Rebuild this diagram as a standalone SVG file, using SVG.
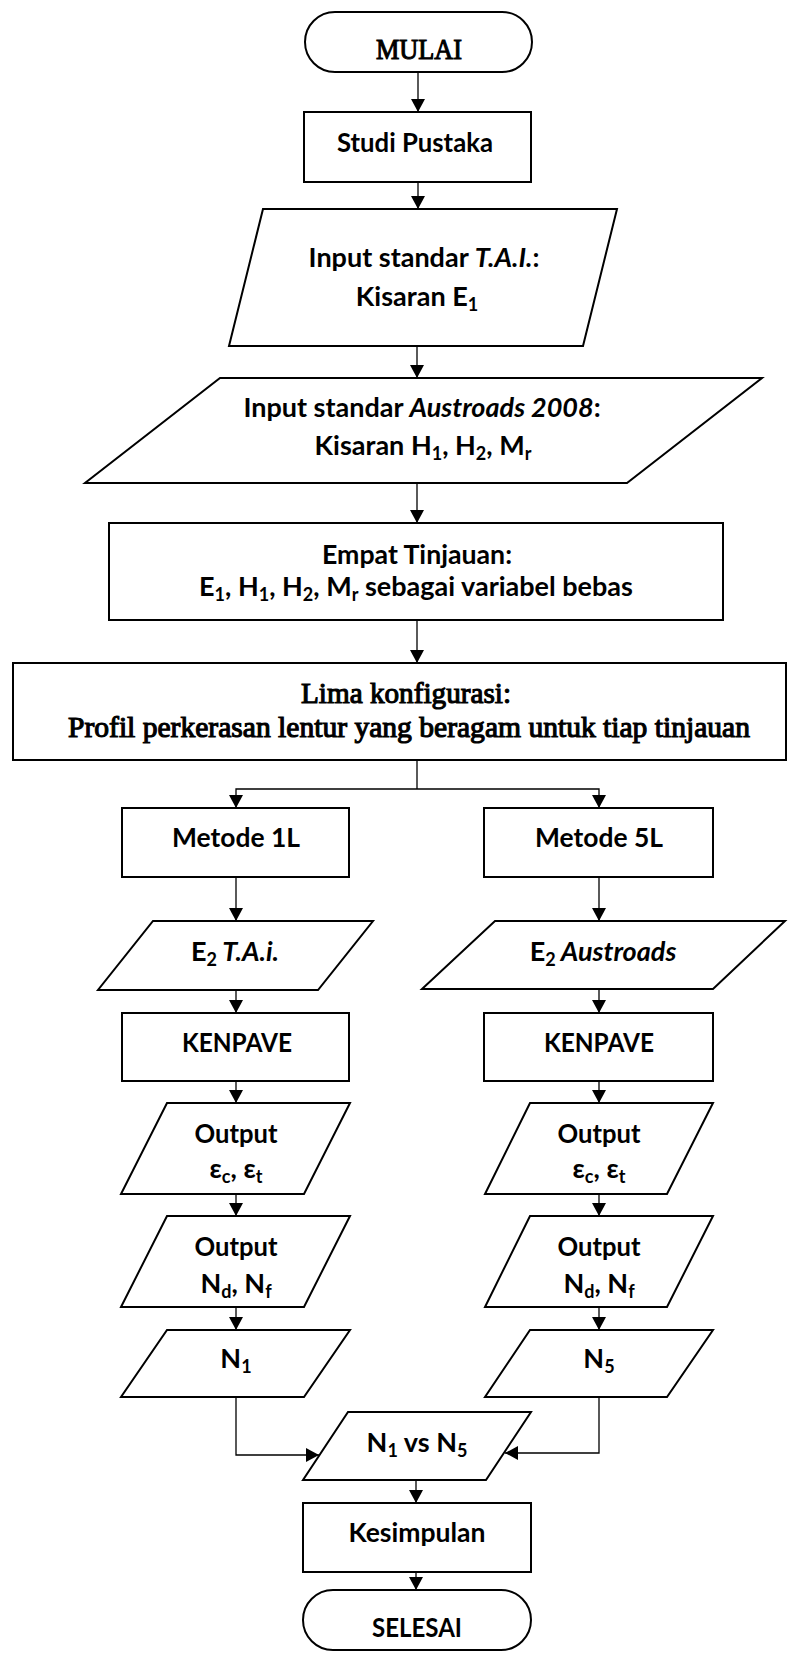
<svg xmlns="http://www.w3.org/2000/svg" width="797" height="1653" viewBox="0 0 797 1653">
<style>
.box{fill:#fff;stroke:#000;stroke-width:2}
.conn{fill:none;stroke:#000;stroke-width:1.3}
.t{font-family:Lato,"Liberation Sans",sans-serif;font-size:27px;font-weight:700;text-anchor:middle;fill:#000}
.s{font-family:"Liberation Serif",serif;font-size:29px;font-weight:400;text-anchor:middle;fill:#000;stroke:#000;stroke-width:1.1}
.sub{font-size:18px}
.i{font-style:italic}
</style>
<defs>
<marker id="ah" markerUnits="userSpaceOnUse" markerWidth="14" markerHeight="14" refX="13" refY="7" orient="auto">
<path d="M0,0 L13,7 L0,14 Z" fill="#000"/>
</marker>
</defs>
<g id="connectors">
<line class="conn" x1="418" y1="72" x2="418" y2="112" marker-end="url(#ah)"/>
<line class="conn" x1="418" y1="182" x2="418" y2="209" marker-end="url(#ah)"/>
<line class="conn" x1="417" y1="346" x2="417" y2="378" marker-end="url(#ah)"/>
<line class="conn" x1="417" y1="483" x2="417" y2="523" marker-end="url(#ah)"/>
<line class="conn" x1="417" y1="620" x2="417" y2="663" marker-end="url(#ah)"/>
<polyline class="conn" points="417,760 417,789"/>
<polyline class="conn" points="417,789 236,789 236,808" marker-end="url(#ah)"/>
<polyline class="conn" points="417,789 599,789 599,808" marker-end="url(#ah)"/>
<line class="conn" x1="236" y1="877" x2="236" y2="921" marker-end="url(#ah)"/>
<line class="conn" x1="599" y1="877" x2="599" y2="921" marker-end="url(#ah)"/>
<line class="conn" x1="236" y1="990" x2="236" y2="1013" marker-end="url(#ah)"/>
<line class="conn" x1="599" y1="989" x2="599" y2="1013" marker-end="url(#ah)"/>
<line class="conn" x1="236" y1="1081" x2="236" y2="1103" marker-end="url(#ah)"/>
<line class="conn" x1="599" y1="1081" x2="599" y2="1103" marker-end="url(#ah)"/>
<line class="conn" x1="236" y1="1194" x2="236" y2="1216" marker-end="url(#ah)"/>
<line class="conn" x1="599" y1="1194" x2="599" y2="1216" marker-end="url(#ah)"/>
<line class="conn" x1="236" y1="1307" x2="236" y2="1330" marker-end="url(#ah)"/>
<line class="conn" x1="599" y1="1307" x2="599" y2="1330" marker-end="url(#ah)"/>
<polyline class="conn" points="236,1397 236,1455 319,1455" marker-end="url(#ah)"/>
<polyline class="conn" points="599,1397 599,1453 505,1453" marker-end="url(#ah)"/>
<line class="conn" x1="416" y1="1480" x2="416" y2="1503" marker-end="url(#ah)"/>
<line class="conn" x1="416" y1="1572" x2="416" y2="1590" marker-end="url(#ah)"/>
</g>
<g id="mulai">
<rect class="box" x="305" y="12" width="227" height="60" rx="30"/>
<text class="s" x="419" y="59" textLength="86" lengthAdjust="spacingAndGlyphs" font-size="26">MULAI</text>
</g>
<g id="studi">
<rect class="box" x="304" y="112" width="227" height="70"/>
<text class="t" x="415" y="152" textLength="156" lengthAdjust="spacingAndGlyphs">Studi Pustaka</text>
</g>
<g id="input-tai">
<polygon class="box" points="263,209 617,209 583,346 229,346"/>
<text class="t" x="424" y="267">Input standar <tspan class="i">T.A.I.</tspan>:</text>
<text class="t" x="417" y="306">Kisaran E<tspan class="sub" dy="5">1</tspan></text>
</g>
<g id="input-austroads">
<polygon class="box" points="220,378 762,378 627,483 85,483"/>
<text class="t" x="422" y="417">Input standar <tspan class="i">Austroads 2008</tspan>:</text>
<text class="t" x="423" y="455">Kisaran H<tspan class="sub" dy="5">1</tspan><tspan dy="-5">, H</tspan><tspan class="sub" dy="5">2</tspan><tspan dy="-5">, M</tspan><tspan class="sub" dy="5">r</tspan></text>
</g>
<g id="empat">
<rect class="box" x="109" y="523" width="614" height="97"/>
<text class="t" x="417" y="564" textLength="190" lengthAdjust="spacingAndGlyphs">Empat Tinjauan:</text>
<text class="t" x="416" y="596">E<tspan class="sub" dy="5">1</tspan><tspan dy="-5">, H</tspan><tspan class="sub" dy="5">1</tspan><tspan dy="-5">, H</tspan><tspan class="sub" dy="5">2</tspan><tspan dy="-5">, M</tspan><tspan class="sub" dy="5">r</tspan><tspan dy="-5"> sebagai variabel bebas</tspan></text>
</g>
<g id="lima">
<rect class="box" x="13" y="663" width="773" height="97"/>
<text class="s" x="406" y="703" textLength="210" lengthAdjust="spacingAndGlyphs">Lima konfigurasi:</text>
<text class="s" x="409" y="737" textLength="682" lengthAdjust="spacingAndGlyphs">Profil perkerasan lentur yang beragam untuk tiap tinjauan</text>
</g>
<g id="metode1l">
<rect class="box" x="122" y="808" width="227" height="69"/>
<text class="t" x="236" y="847" textLength="128" lengthAdjust="spacingAndGlyphs">Metode 1L</text>
</g>
<g id="metode5l">
<rect class="box" x="484" y="808" width="229" height="69"/>
<text class="t" x="599" y="847" textLength="128" lengthAdjust="spacingAndGlyphs">Metode 5L</text>
</g>
<g id="e2-tai">
<polygon class="box" points="153,921 373,921 318,990 98,990"/>
<text class="t" x="235" y="961">E<tspan class="sub" dy="5">2</tspan><tspan class="i" dy="-5"> T.A.i.</tspan></text>
</g>
<g id="e2-austroads">
<polygon class="box" points="495,921 785,921 713,989 422,989"/>
<text class="t" x="603" y="961">E<tspan class="sub" dy="5">2</tspan><tspan class="i" dy="-5"> Austroads</tspan></text>
</g>
<g id="kenpave1">
<rect class="box" x="122" y="1013" width="227" height="68"/>
<text class="t" x="237" y="1052" textLength="110" lengthAdjust="spacingAndGlyphs">KENPAVE</text>
</g>
<g id="kenpave5">
<rect class="box" x="484" y="1013" width="229" height="68"/>
<text class="t" x="599" y="1052" textLength="110" lengthAdjust="spacingAndGlyphs">KENPAVE</text>
</g>
<g id="output-strain-1">
<polygon class="box" points="167,1103 350,1103 304,1194 121,1194"/>
<text class="t" x="236" y="1143" textLength="83" lengthAdjust="spacingAndGlyphs">Output</text>
<text class="t" x="236" y="1178">ε<tspan class="sub" dy="5">c</tspan><tspan dy="-5">, ε</tspan><tspan class="sub" dy="5">t</tspan></text>
</g>
<g id="output-strain-5">
<polygon class="box" points="530,1103 713,1103 667,1194 485,1194"/>
<text class="t" x="599" y="1143" textLength="83" lengthAdjust="spacingAndGlyphs">Output</text>
<text class="t" x="599" y="1178">ε<tspan class="sub" dy="5">c</tspan><tspan dy="-5">, ε</tspan><tspan class="sub" dy="5">t</tspan></text>
</g>
<g id="output-n-1">
<polygon class="box" points="167,1216 350,1216 304,1307 121,1307"/>
<text class="t" x="236" y="1256" textLength="83" lengthAdjust="spacingAndGlyphs">Output</text>
<text class="t" x="236" y="1293">N<tspan class="sub" dy="5">d</tspan><tspan dy="-5">, N</tspan><tspan class="sub" dy="5">f</tspan></text>
</g>
<g id="output-n-5">
<polygon class="box" points="530,1216 713,1216 667,1307 485,1307"/>
<text class="t" x="599" y="1256" textLength="83" lengthAdjust="spacingAndGlyphs">Output</text>
<text class="t" x="599" y="1293">N<tspan class="sub" dy="5">d</tspan><tspan dy="-5">, N</tspan><tspan class="sub" dy="5">f</tspan></text>
</g>
<g id="n1">
<polygon class="box" points="167,1330 350,1330 304,1397 121,1397"/>
<text class="t" x="236" y="1368">N<tspan class="sub" dy="5">1</tspan></text>
</g>
<g id="n5">
<polygon class="box" points="530,1330 713,1330 667,1397 485,1397"/>
<text class="t" x="599" y="1368">N<tspan class="sub" dy="5">5</tspan></text>
</g>
<g id="n1-vs-n5">
<polygon class="box" points="348,1412 531,1412 486,1480 303,1480"/>
<text class="t" x="417" y="1452">N<tspan class="sub" dy="5">1</tspan><tspan dy="-5"> vs N</tspan><tspan class="sub" dy="5">5</tspan></text>
</g>
<g id="kesimpulan">
<rect class="box" x="303" y="1503" width="228" height="69"/>
<text class="t" x="417" y="1542" textLength="137" lengthAdjust="spacingAndGlyphs">Kesimpulan</text>
</g>
<g id="selesai">
<rect class="box" x="303" y="1590" width="228" height="60" rx="30"/>
<text class="t" x="417" y="1637" textLength="90" lengthAdjust="spacingAndGlyphs">SELESAI</text>
</g>
</svg>
